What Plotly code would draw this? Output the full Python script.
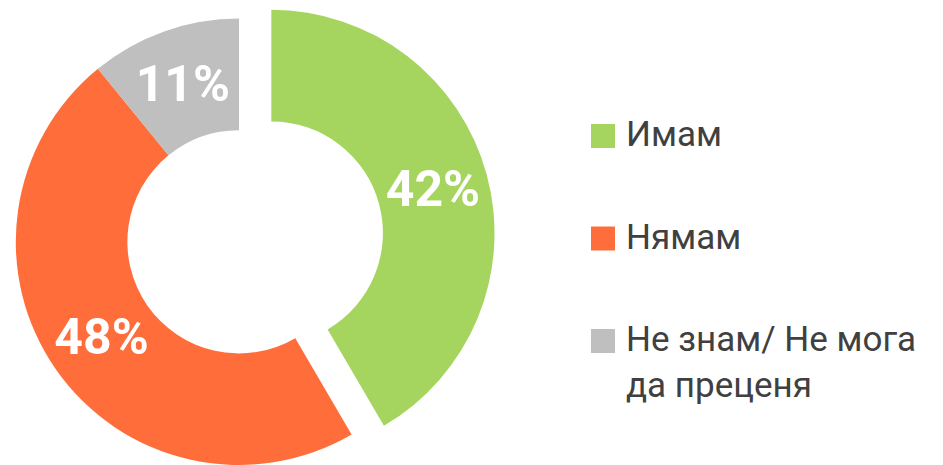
import math
import plotly.graph_objects as go

# ---- data ----
labels = ["Имам", "Нямам", "Не знам/ Не мога<br>да преценя"]
values = [42, 48, 11]
colors = ["#A5D55F", "#FF6E3A", "#BFBFBF"]
pulled = [True, False, False]

# ---- layout constants (pixels) ----
W, H = 943, 465
CX, CY, R = 239.0, 241.8, 223.2
HOLE = 0.5
PULL = 0.15
TRANSPARENT = "rgba(0,0,0,0)"
TEXT_FONT = dict(family="Roboto", size=50, color="white", weight="bold")


def domain(cx, cy, r):
    return dict(x=[(cx - r) / W, (cx + r) / W],
                y=[1 - (cy + r) / H, 1 - (cy - r) / H])


texts = [f"{v}%" for v in values]
total = float(sum(values))

fig = go.Figure()

# main ring: slices that are not pulled out
fig.add_trace(go.Pie(
    labels=labels, values=values, sort=False, direction="clockwise", rotation=0,
    hole=HOLE, domain=domain(CX, CY, R),
    marker=dict(colors=[TRANSPARENT if p else c for c, p in zip(colors, pulled)]),
    text=["" if p else t for t, p in zip(texts, pulled)],
    textinfo="text", textposition="inside", insidetextorientation="horizontal",
    textfont=TEXT_FONT, showlegend=False, hoverinfo="label+text",
))

# pulled-out slices: same pie, shifted along the slice bisector
for i, p in enumerate(pulled):
    if not p:
        continue
    mid = (sum(values[:i]) + values[i] / 2) / total * 2 * math.pi
    dx = PULL * R * math.sin(mid)
    dy = -PULL * R * math.cos(mid)
    fig.add_trace(go.Pie(
        labels=labels, values=values, sort=False, direction="clockwise", rotation=0,
        hole=HOLE, domain=domain(CX + dx, CY + dy, R),
        marker=dict(colors=[c if j == i else TRANSPARENT for j, c in enumerate(colors)]),
        text=[t if j == i else "" for j, t in enumerate(texts)],
        textinfo="text", textposition="inside", insidetextorientation="horizontal",
        textfont=TEXT_FONT, showlegend=False, hoverinfo="label+text",
    ))

# legend (drawn from labels / colors)
LEG_X, SQ, GAP = 591, 24, 9
LEG_Y0, LEG_STEP = 136, 102.5
FS = 35
for i, (lab, col) in enumerate(zip(labels, colors)):
    yc = LEG_Y0 + i * LEG_STEP
    fig.add_shape(type="rect", xref="paper", yref="paper",
                  x0=LEG_X / W, x1=(LEG_X + SQ) / W,
                  y0=1 - (yc + SQ / 2) / H, y1=1 - (yc - SQ / 2) / H,
                  fillcolor=col, line_width=0)
    fig.add_annotation(text=lab, xref="paper", yref="paper",
                       x=(LEG_X + SQ + GAP) / W, y=1 - (yc - 0.65 * FS - 1) / H,
                       xanchor="left", yanchor="top", align="left", showarrow=False,
                       font=dict(family="Roboto", size=FS, color="#404040"))

fig.update_layout(width=W, height=H, margin=dict(l=0, r=0, t=0, b=0),
                  paper_bgcolor="white", plot_bgcolor="white", showlegend=False)

fig.write_html("out.html")
